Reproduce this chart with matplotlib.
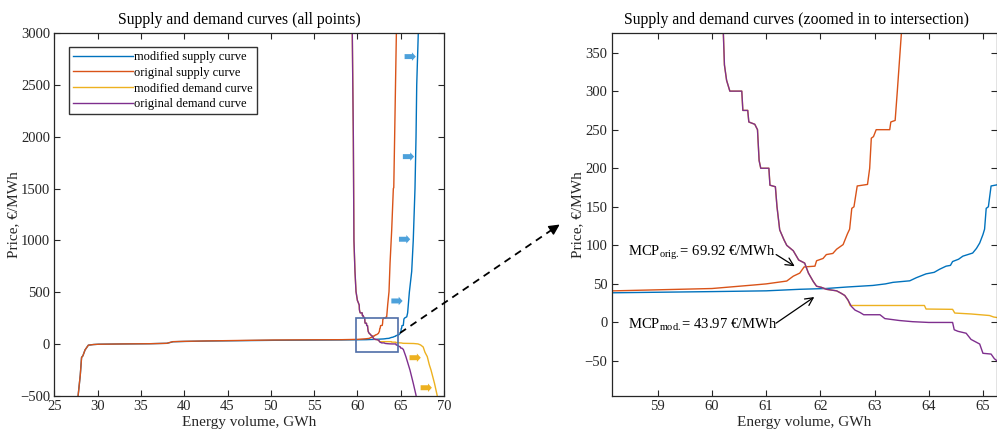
import matplotlib
matplotlib.use("Agg")
import matplotlib.pyplot as plt
from matplotlib.patches import Rectangle, FancyArrowPatch
from matplotlib.lines import Line2D

plt.rcParams['font.family'] = ['Liberation Serif', 'DejaVu Serif']
plt.rcParams['mathtext.fontset'] = 'custom'
plt.rcParams['mathtext.rm'] = 'Liberation Serif'
plt.rcParams['mathtext.it'] = 'Liberation Serif:italic'

# ---------------- data ----------------
orig_supply_x = [27.75, 28.0, 28.15, 28.3, 28.55, 28.93, 29.5, 30.1, 33, 36, 38.0, 38.7, 40, 42.6, 46,
                 50.3, 55, 58.2, 60.0, 60.76, 61.0, 61.38, 61.5, 61.62, 61.7, 61.9, 61.93, 62.05, 62.11,
                 62.23, 62.3, 62.42, 62.5, 62.54, 62.58, 62.62, 62.68, 62.87, 62.91, 62.94, 62.98, 63.03,
                 63.28, 63.3, 63.38, 63.42, 63.47, 63.5, 63.65, 63.77, 63.96, 64.15, 64.2, 64.3, 64.4,
                 64.5, 64.55]
orig_supply_y = [-500, -300, -130, -115, -58, -12, -6, -3, 0, 2, 6, 22, 25, 29, 33,
                 38, 40, 41, 44, 48.5, 50, 53.7, 60, 64, 72, 73, 80, 83, 88,
                 89.5, 95, 101, 115, 121, 148, 150, 177, 179, 200, 239, 241, 250,
                 250, 260, 262, 300, 350, 380, 505, 780, 1100, 1500, 1510, 2000, 2500,
                 3000, 3100]

mod_supply_x = [27.75, 28.0, 28.15, 28.3, 28.55, 28.93, 29.5, 30.1, 33, 36, 38.0, 38.7, 40, 42.6, 46,
                50.3, 55, 58.2, 60, 61, 61.62, 62.1, 62.5, 62.97, 63.2, 63.34, 63.65, 63.77, 63.95,
                64.1, 64.2, 64.32, 64.4, 64.44, 64.55, 64.63, 64.81, 64.88, 64.94, 65.0, 65.03, 65.06,
                65.1, 65.15, 65.3, 65.37, 65.45, 65.7, 65.8, 66.0, 66.27, 66.45, 66.65, 66.77, 66.85,
                67.03, 67.05]
mod_supply_y = [-500, -300, -130, -115, -58, -12, -6, -3, 0, 2, 6, 21, 24, 28, 31,
                35, 37, 38.5, 40, 41, 43, 44, 46, 48, 50, 52, 54, 58, 63,
                65, 69, 73, 74, 79, 82, 86, 90, 96, 103, 114, 121, 148,
                150, 177, 179, 240, 250, 262, 300, 500, 700, 1000, 1500, 2000, 2500,
                3000, 3100]

mod_demand_x = [59.4, 59.41, 59.53, 59.6, 59.72, 59.84, 60.0, 60.1, 60.21, 60.23, 60.27, 60.33, 60.55,
                60.57, 60.66, 60.68, 60.79, 60.84, 60.87, 60.9, 61.05, 61.07, 61.17, 61.2, 61.25, 61.33,
                61.38, 61.5, 61.6, 61.71, 61.78, 61.87, 61.93, 62.02, 62.11, 62.3, 62.38, 62.45, 62.51,
                62.55, 63.92, 63.95, 64.44, 64.48, 64.78, 65.12, 65.2, 65.3, 66.5, 67.0, 67.3, 67.6,
                67.8, 68.07, 68.3, 68.5, 68.9, 69.2, 69.25]
mod_demand_y = [3100, 3000, 2000, 1000, 700, 505, 420, 400, 375, 334, 314, 300, 300,
                275, 275, 260, 257, 250, 210, 200, 200, 178, 176, 150, 120, 107,
                100, 93, 81, 77, 64, 53, 47, 45.5, 43, 41, 38, 35, 29,
                22, 22, 17.4, 17, 12.2, 11, 9, 7, 6, 4, 0, -10, -30,
                -80, -123, -200, -252, -380, -493, -520]

orig_demand_x = [59.4, 59.41, 59.53, 59.6, 59.72, 59.84, 60.0, 60.1, 60.21, 60.23, 60.27, 60.33, 60.55,
                 60.57, 60.66, 60.68, 60.79, 60.84, 60.87, 60.9, 61.05, 61.07, 61.17, 61.2, 61.25, 61.33,
                 61.38, 61.5, 61.6, 61.71, 61.78, 61.87, 61.93, 62.02, 62.11, 62.3, 62.38, 62.45, 62.51,
                 62.57, 62.64, 62.73, 62.8, 63.1, 63.19, 63.46, 63.7, 64.0, 64.44, 64.47, 64.54, 64.69,
                 64.78, 64.94, 65.0, 65.15, 65.21, 65.3, 65.6, 66.07, 66.45, 66.77, 66.8]
orig_demand_y = [3100, 3000, 2000, 1000, 700, 505, 420, 400, 375, 334, 314, 300, 300,
                 275, 275, 260, 257, 250, 210, 200, 200, 178, 176, 150, 120, 107,
                 100, 93, 81, 77, 64, 53, 47, 45.5, 43, 41, 38, 35, 29,
                 21, 16, 13, 10, 10, 5, 2.5, 1, 0, 0, -9.5, -11.5, -14,
                 -22, -28, -40, -41, -47, -52, -123, -252, -380, -495, -520]

labels = ['modified supply curve', 'original supply curve',
          'modified demand curve', 'original demand curve']
colors = ['#0072BD', '#D95319', '#EDB120', '#7E2F8E']

# shift-indicator arrows (start x, y)
blue_arrows = [(65.45, 2775), (65.25, 1809), (64.8, 1011), (63.92, 415)]
yellow_arrows = [(66.02, -133), (67.3, -423)]
arrow_len = 1.3

mcp_orig = 69.92
mcp_mod = 43.97

W, H = 997, 433
fig = plt.figure(figsize=(W / 100, H / 100), dpi=100)

ax1 = fig.add_axes([54.3 / W, 37.3 / H, 389.7 / W, 362.4 / H])
ax2 = fig.add_axes([611.7 / W, 37.3 / H, 384.8 / W, 362.4 / H])

series = [(mod_supply_x, mod_supply_y), (orig_supply_x, orig_supply_y),
          (mod_demand_x, mod_demand_y), (orig_demand_x, orig_demand_y)]

for ax in (ax1, ax2):
    for (xs, ys), c, lab in zip(series, colors, labels):
        ax.plot(xs, ys, color=c, lw=1.0, label=lab)
    ax.tick_params(direction='in', top=True, right=True, length=4, width=0.8,
                   labelsize=10.5, pad=3, colors='#262626')
    for sp in ax.spines.values():
        sp.set_linewidth(0.9)
        sp.set_color('#262626')
    ax.set_xlabel('Energy volume, GWh', fontsize=11, labelpad=2, color='#262626')
    ax.set_ylabel('Price, €/MWh', fontsize=11, labelpad=0, color='#262626')

ax1.set_xlim(25, 70)
ax1.set_ylim(-500, 3000)
ax1.set_xticks(range(25, 71, 5))
ax1.set_yticks(range(-500, 3001, 500))
ax1.set_title('Supply and demand curves (all points)', fontsize=11.3, pad=7, x=0.476)

ax2.set_xlim(58.15, 65.25)
ax2.set_ylim(-95, 375)
ax2.set_xticks(range(59, 66))
ax2.set_yticks(range(-50, 351, 50))
ax2.set_title('Supply and demand curves (zoomed in to intersection)', fontsize=11.3, pad=7, x=0.479)

leg = ax1.legend(loc='upper left', bbox_to_anchor=(0.038, 0.962), fontsize=9,
                 handlelength=4.8, handletextpad=0.1, borderpad=0.32, labelspacing=0.3,
                 fancybox=False, framealpha=1, edgecolor='#333333', borderaxespad=0)
leg.get_frame().set_linewidth(1.0)

for x, y in blue_arrows:
    ax1.arrow(x, y, arrow_len, 0, width=48, head_width=82, head_length=0.45,
              length_includes_head=True, color='#4DA1DB', lw=0)
for x, y in yellow_arrows:
    ax1.arrow(x, y, arrow_len, 0, width=48, head_width=82, head_length=0.45,
              length_includes_head=True, color='#EDB120', lw=0)

ax1.add_patch(Rectangle((59.8, -75), 4.92, 330, fill=False, edgecolor='#4F6EA8', lw=1.2, zorder=5))

# dashed connector arrow
fig.add_artist(Line2D([400 / W, 553 / W], [1 - 333 / H, 1 - 229 / H], transform=fig.transFigure,
                      color='black', lw=1.3, linestyle=(0, (4, 3))))
fig.add_artist(FancyArrowPatch((553 / W, 1 - 229 / H), (562 / W, 1 - 223 / H),
                               transform=fig.transFigure, arrowstyle='-|>',
                               mutation_scale=16, color='black', lw=1.0))

ax2.text(58.45, 90, r'MCP$_{\mathrm{orig.}}$= %.2f €/MWh' % mcp_orig, fontsize=10.5, va='center', ha='left')
ax2.text(58.45, -3, r'MCP$_{\mathrm{mod.}}$= %.2f €/MWh' % mcp_mod, fontsize=10.5, va='center', ha='left')
ax2.annotate('', xy=(61.57, 71), xytext=(61.14, 90),
             arrowprops=dict(arrowstyle='->', lw=0.9, color='black', mutation_scale=14))
ax2.annotate('', xy=(61.93, 35), xytext=(61.14, -3),
             arrowprops=dict(arrowstyle='->', lw=0.9, color='black', mutation_scale=14))

fig.savefig('out.png', dpi=100)
